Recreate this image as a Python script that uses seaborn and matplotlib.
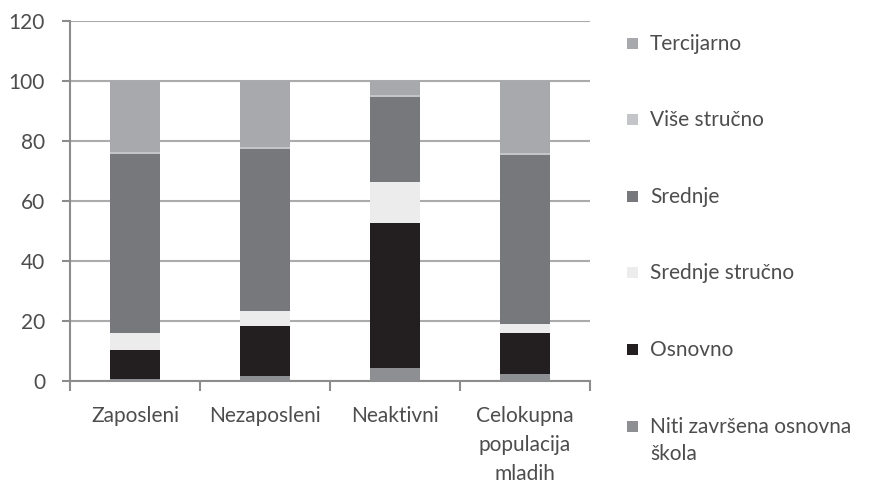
import numpy as np
import seaborn as sns
import matplotlib.pyplot as plt
from matplotlib.patches import Rectangle

sns.set_style("white")
plt.rcParams["font.family"] = ["Lato", "DejaVu Sans"]

# ---------------------------------------------------------------------------
# Data (share in %, stacked bottom -> top)
# ---------------------------------------------------------------------------
categories = ["Zaposleni", "Nezaposleni", "Neaktivni", "Celokupna\npopulacija\nmladih"]
series = ["Niti završena osnovna\nškola", "Osnovno", "Srednje stručno", "Srednje",
          "Više stručno", "Tercijarno"]
niti = [0.7, 1.7, 4.2, 2.5]
osnovno = [9.8, 16.6, 48.4, 13.4]
srednje_strucno = [5.5, 5.0, 13.8, 3.1]
srednje = [59.7, 54.2, 28.4, 56.3]
vise_strucno = [0.6, 0.6, 0.6, 0.6]
tercijarno = [23.7, 21.9, 4.6, 24.1]

colors = ["#8e8f93", "#231f20", "#ececec", "#77787c", "#c4c5c8", "#a8a9ad"]
text_color = "#4d4d4d"

values = np.array([niti, osnovno, srednje_strucno, srednje, vise_strucno, tercijarno])
cumulative = values.cumsum(axis=0)

W, H = 877, 483
fig = plt.figure(figsize=(W / 100, H / 100), dpi=100)
ax = fig.add_axes([70 / W, 1 - 381 / H, 520 / W, 360 / H])

# draw stacked bars: tallest cumulative first, each layer overlapping
for i in range(len(series) - 1, -1, -1):
    sns.barplot(x=categories, y=cumulative[i], color=colors[i], width=0.385,
                saturation=1, ax=ax, linewidth=0, zorder=3)

ax.set_ylim(0, 120)
ax.set_xlim(-0.5, 3.5)
ax.set_yticks(range(0, 121, 20))
ax.yaxis.grid(True, color="#ababab", linewidth=1.5, zorder=0)
ax.set_axisbelow(True)
ax.set_xlabel("")
ax.set_ylabel("")

for side in ["top", "right"]:
    ax.spines[side].set_visible(False)
for side in ["left", "bottom"]:
    ax.spines[side].set_color("#8c8c8c")
    ax.spines[side].set_linewidth(1.5)

ax.tick_params(axis="y", which="major", length=6, width=1.5, color="#8c8c8c",
               labelsize=15, labelcolor=text_color, pad=12, left=True)
ax.tick_params(axis="x", which="major", length=0, labelsize=15, labelcolor=text_color, pad=18)
ax.set_xticks([-0.5, 0.5, 1.5, 2.5, 3.5], minor=True)
ax.tick_params(axis="x", which="minor", length=7, width=1.5, color="#8c8c8c", bottom=True)
for lbl in ax.get_xticklabels():
    lbl.set_linespacing(1.55)
    lbl.set_verticalalignment("top")

# legend, drawn top (Tercijarno) -> bottom
legend_y = [44, 120, 197, 273, 350, 427]
for k, idx in enumerate(range(len(series) - 1, -1, -1)):
    y = legend_y[k]
    fig.patches.append(Rectangle((627 / W, 1 - (y + 5) / H), 11 / W, 11 / H,
                                 transform=fig.transFigure, facecolor=colors[idx],
                                 edgecolor="none"))
    label = series[idx]
    fig.text(650 / W, 1 - (y - 10) / H, label, fontsize=15, color=text_color,
             va="top", ha="left", linespacing=1.45)

fig.savefig("out.png", dpi=100)
